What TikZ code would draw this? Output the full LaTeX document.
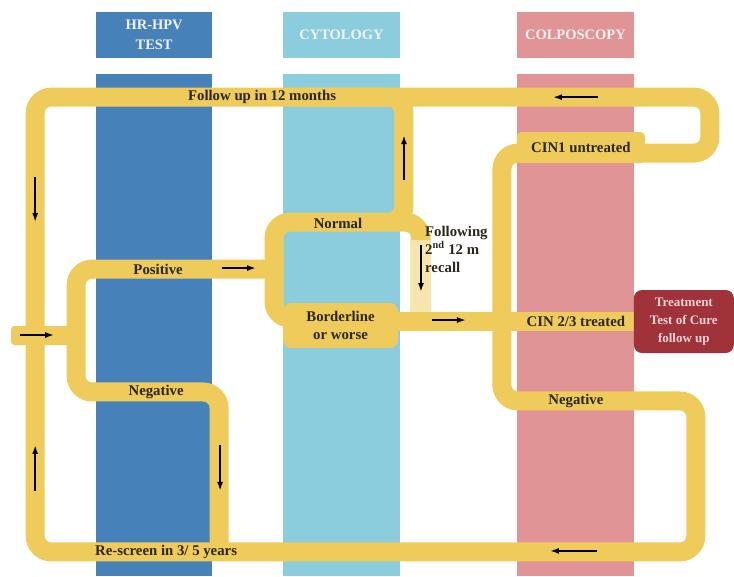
\documentclass[tikz,border=0pt]{standalone}
\usepackage{fontspec}
\setmainfont{Liberation Serif}
\usetikzlibrary{arrows.meta}

\definecolor{hpvblue}{RGB}{70,129,185}
\definecolor{cytoblue}{RGB}{139,205,221}
\definecolor{colpopink}{RGB}{224,148,149}
\definecolor{trackyellow}{RGB}{239,203,91}
\definecolor{fadedyellow}{RGB}{246,230,174}
\definecolor{curered}{RGB}{160,50,58}
\definecolor{curetext}{RGB}{243,211,211}
\definecolor{labeltext}{RGB}{42,38,28}
\definecolor{headtext}{RGB}{242,242,242}

\newcommand{\tagfont}{\fontsize{14.8}{18}\selectfont\bfseries}

\tikzset{
	track/.style={draw=trackyellow, line width=19pt, rounded corners=16pt},
	tag/.style={font=\tagfont, text=labeltext, inner sep=0pt, align=center},
	flow/.style={-{Latex[length=9pt,width=6pt]}, line width=1.8pt, black},
	hdr/.style={font=\fontsize{14.5}{20}\selectfont\bfseries, text=headtext, inner sep=0pt, align=center}
}

\begin{document}
\begin{tikzpicture}[x=1pt,y=-1pt]
		\draw[use as bounding box, transparent] (0,0) rectangle (734,576);

		% Define the macro.
		% 1st argument: Left edge of the column.
		% 2nd argument: Right edge of the column.
		% 3rd argument: Fill colour.
		% 4th argument: Header text.
		% 5th argument: Name of the header node.
		\newcommand{\screenColumn}[5]{
			\fill[#3] (#1,12) rectangle (#2,58);   % header
			\fill[#3] (#1,74) rectangle (#2,576);  % body
			\node[hdr] (#5) at ({(#1+#2)/2},35) {#4};
		}

		% COLUMNS
		\screenColumn{96}{212}{hpvblue}{HR-HPV\\TEST}{hpv}
		\screenColumn{283}{400}{cytoblue}{CYTOLOGY}{cyto}
		\screenColumn{517}{634}{colpopink}{COLPOSCOPY}{colpo}

		% Main loop: follow up, CIN1, negative colposcopy, re-screen
		\draw[track] (200,97) -- (710,97) -- (710,153) -- (502,153) -- (502,401) -- (696,401) -- (696,552) -- (35,552) -- (35,97) -- cycle;

		% HR-HPV branch
		\fill[trackyellow, rounded corners=3pt] (11,326) rectangle (80,345);
		\draw[track] (274,269) -- (76,269) -- (76,392) -- (219,392) -- (219,552);

		% Cytology loop
		\draw[fadedyellow, line width=21pt] (421,232) -- (421,321);
		\draw[track] (390,222) -- (421,222) -- (421,240);
		\draw[track] (300,97) -- (404,97) -- (404,222) -- (274,222) -- (274,318) -- (300,318);
		\draw[track] (380,321) -- (634,321);

		% Boxes
		\node[tag, fill=trackyellow, rounded corners=8pt, minimum width=115pt, minimum height=45pt] (border) at (340.5,325.5) {Borderline\\or worse};
		\node[tag, fill=trackyellow, rounded corners=4pt, minimum width=128pt, minimum height=31pt] (cinone) at (581,147.5) {CIN1 untreated};
		\node[tag, fill=curered, text=curetext, rounded corners=8pt, minimum width=100pt, minimum height=63pt, font=\fontsize{13}{18}\selectfont\bfseries] (cure) at (684,321.5) {Treatment\\Test of Cure\\follow up};

		% Labels
		\node[tag] (followup) at (262,97) {Follow up in 12 months};
		\node[tag] (normal) at (338,223) {Normal};
		\node[tag, anchor=west, align=left] (recall) at (425,249) {Following\\2\textsuperscript{nd} 12 m\\recall};
		\node[tag] (positive) at (158,269) {Positive};
		\node[tag] (cintwo) at (576,321) {CIN 2/3 treated};
		\node[tag] (negone) at (156,392) {Negative};
		\node[tag] (negtwo) at (576,401) {Negative};
		\node[tag] (rescreen) at (166,552) {Re-screen in 3/ 5 years};

		% Direction arrows
		\draw[flow] (598,97) -- (553,97);
		\draw[flow] (35,177) -- (35,222);
		\draw[flow] (222,268) -- (256,268);
		\draw[flow] (404,180) -- (404,135);
		\draw[flow] (421,245) -- (421,292);
		\draw[flow] (432,320) -- (466,320);
		\draw[flow] (20,335) -- (54,335);
		\draw[flow] (220,445) -- (220,491);
		\draw[flow] (35,491) -- (35,445);
		\draw[flow] (597,551) -- (550,551);

	\end{tikzpicture}
\end{document}
